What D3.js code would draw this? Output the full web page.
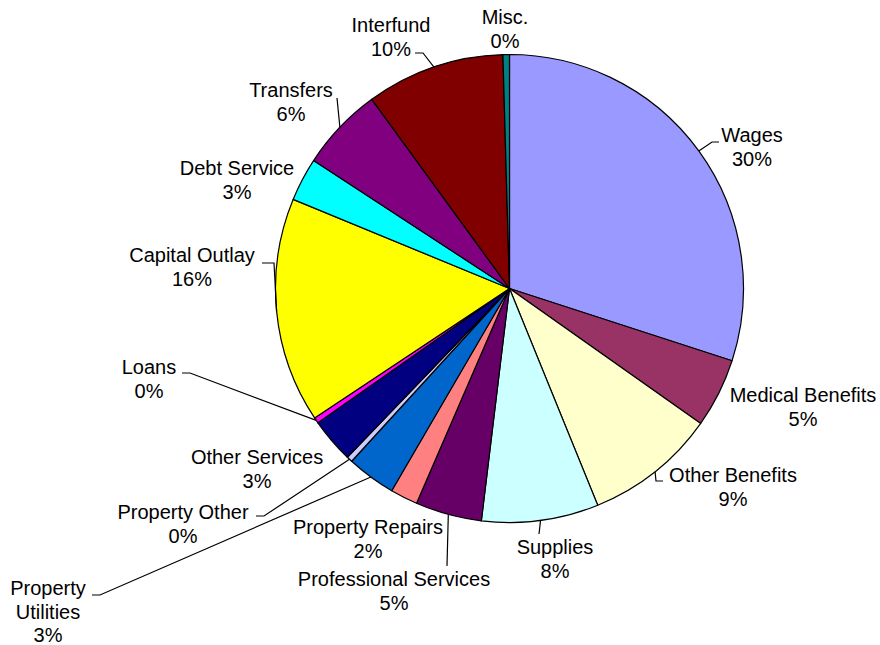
<!DOCTYPE html>
<html>
<head>
<meta charset="utf-8">
<script src="https://cdn.jsdelivr.net/npm/d3@7"></script>
<style>
  html, body { margin: 0; padding: 0; background: #fff; }
  svg text { font-family: "Liberation Sans", Arial, sans-serif; font-size: 20px; fill: #000; }
</style>
</head>
<body>
<svg id="chart" width="880" height="645"></svg>
<script>
// Expenditure categories, clockwise from 12 o'clock
const categories = [
  "Wages", "Medical Benefits", "Other Benefits", "Supplies",
  "Professional Services", "Property Repairs", "Property\nUtilities",
  "Property Other", "Other Services", "Loans", "Capital Outlay",
  "Debt Service", "Transfers", "Interfund", "Misc."
];

// Share of total spending (percent)
const shares = [
  30.1, 4.8, 9.1, 8.1,
  4.6, 1.9, 3.4,
  0.4, 3.1, 0.4, 15.6,
  3.0, 5.8, 9.6, 0.45
];

const sliceColors = [
  "#9999FF", "#993366", "#FFFFCC", "#CCFFFF",
  "#660066", "#FF8080", "#0066CC",
  "#CCCCFF", "#000080", "#FF00FF", "#FFFF00",
  "#00FFFF", "#800080", "#800000", "#008080"
];

// Label placement: text centre (x, first-line y) and leader-line bend points
const labelLayout = {
  "Wages":                 { x: 752, y: 135, path: [[712, 142], [719, 142]] },
  "Medical Benefits":      { x: 803, y: 395 },
  "Other Benefits":        { x: 733, y: 475, path: [[656, 481], [663, 481]] },
  "Supplies":              { x: 555, y: 547, path: [[539, 534]] },
  "Professional Services": { x: 394, y: 579, path: [[447, 566]] },
  "Property Repairs":      { x: 368, y: 527 },
  "Property\nUtilities":   { x: 48,  y: 588, path: [[100, 595], [92, 595]] },
  "Property Other":        { x: 183, y: 512, path: [[264, 516], [256, 516]] },
  "Other Services":        { x: 257, y: 457 },
  "Loans":                 { x: 149, y: 367, path: [[190, 373], [182, 373]] },
  "Capital Outlay":        { x: 192, y: 255, path: [[274, 263], [262, 263]] },
  "Debt Service":          { x: 237, y: 168 },
  "Transfers":             { x: 291, y: 90,  path: [[337, 98]] },
  "Interfund":             { x: 391, y: 25,  path: [[423, 53], [415, 53]] },
  "Misc.":                 { x: 505, y: 17 }
};

const width = 880, height = 645;
const cx = 509.5, cy = 288.5, radius = 234;
const lineGap = 23.5;

const data = categories.map((c, i) => ({ name: c, value: shares[i], color: sliceColors[i] }));
const total = d3.sum(shares);

const svg = d3.select("#chart");
const g = svg.append("g").attr("transform", `translate(${cx},${cy})`);

const pie = d3.pie().value(d => d.value).sort(null);
const arc = d3.arc().innerRadius(0).outerRadius(radius);
const arcs = pie(data);

g.selectAll("path.slice")
  .data(arcs)
  .join("path")
  .attr("class", "slice")
  .attr("d", arc)
  .attr("fill", d => d.data.color)
  .attr("stroke", "#000")
  .attr("stroke-width", 1.2)
  .attr("stroke-linejoin", "round");

// Leader lines from the slice edge (mid-angle) to the label
const edgePoint = a => {
  const m = (a.startAngle + a.endAngle) / 2;
  return [cx + radius * Math.sin(m), cy - radius * Math.cos(m)];
};

const leaders = arcs.filter(a => labelLayout[a.data.name].path);
svg.selectAll("path.leader")
  .data(leaders)
  .join("path")
  .attr("class", "leader")
  .attr("d", a => d3.line()([edgePoint(a), ...labelLayout[a.data.name].path]))
  .attr("fill", "none")
  .attr("stroke", "#000")
  .attr("stroke-width", 1.2);

// Category labels with rounded percentage
const fmtPct = v => Math.round(v / total * 100) + "%";
const labels = svg.selectAll("text.label")
  .data(arcs)
  .join("text")
  .attr("class", "label")
  .attr("text-anchor", "middle")
  .attr("transform", a => {
    const p = labelLayout[a.data.name];
    return `translate(${p.x},${p.y + 7})`;
  });

labels.each(function(a) {
  const lines = a.data.name.split("\n").concat([fmtPct(a.data.value)]);
  d3.select(this).selectAll("tspan")
    .data(lines)
    .join("tspan")
    .attr("x", 0)
    .attr("y", (d, i) => i * lineGap)
    .text(d => d);
});
</script>
</body>
</html>
